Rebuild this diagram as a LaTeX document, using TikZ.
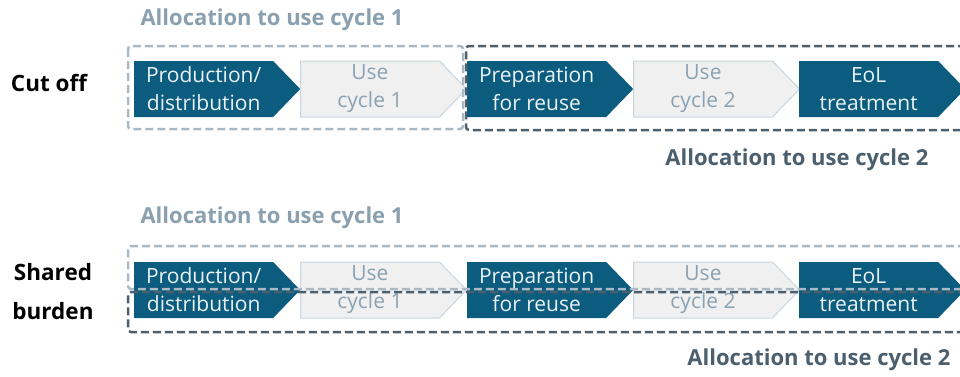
\documentclass[tikz,border=0pt]{standalone}
\usepackage{fontspec}
\setmainfont{Open Sans}
\usetikzlibrary{shapes.symbols}

\definecolor{petrol}{HTML}{0B5C7E}
\definecolor{usefill}{HTML}{F0F0F0}
\definecolor{useline}{HTML}{C9D6DF}
\definecolor{usetext}{HTML}{8AA2B3}
\definecolor{alloclight}{HTML}{A9BAC6}
\definecolor{alloctext}{HTML}{8AA0AF}
\definecolor{allocdark}{HTML}{4B5F6E}

\begin{document}
\begin{tikzpicture}[x=1pt,y=-1pt,
    chev/.style={signal, signal to=east, signal pointer angle=92,
      minimum width=166pt, minimum height=56pt, inner sep=0pt,
      anchor=west, align=center, font=\fontsize{21}{28}\selectfont},
    darkchev/.style={chev, fill=petrol, text=white!92!petrol},
    lightchev/.style={chev, fill=usefill, draw=useline, line width=1pt, text=usetext},
    alloc/.style={font=\bfseries\fontsize{22}{26}\selectfont},
    rowlabel/.style={font=\bfseries\fontsize{22.5}{39}\selectfont, align=center, text=black},
    grp/.style={dash pattern=on 8pt off 4pt, line width=2.5pt, rounded corners=3pt}]
    \clip (0,0) rectangle (960,376);
    \useasboundingbox (0,0) rectangle (960,376);

    % cut off
    \node[rowlabel] (cutoff) at (49,83) {Cut off};
    \node[darkchev] (prodA) at (134,89) {Production/\\distribution};
    \node[lightchev] (useA1) at (300,89) {Use\\cycle 1};
    \node[darkchev] (prepA) at (467,89) {Preparation\\for reuse};
    \node[lightchev] (useA2) at (633,89) {Use\\cycle 2};
    \node[darkchev] (eolA) at (799,89) {EoL\\treatment};

    \draw[grp, allocdark] (990,46) -- (466,46) -- (466,130) -- (990,130);
    \draw[grp, alloclight] (128,46) rectangle (463,129);
    \node[alloc, text=alloctext, anchor=west] (allocA1) at (137,20) {Allocation to use cycle 1};
    \node[alloc, text=allocdark, anchor=east] (allocA2) at (932,160) {Allocation to use cycle 2};

    % shared burden
    \node[rowlabel] (shared) at (53,292) {Shared\\burden};
    \node[darkchev] (prodB) at (134,290) {Production/\\distribution};
    \node[lightchev] (useB1) at (300,290) {Use\\cycle 1};
    \node[darkchev] (prepB) at (467,290) {Preparation\\for reuse};
    \node[lightchev] (useB2) at (633,290) {Use\\cycle 2};
    \node[darkchev] (eolB) at (799,290) {EoL\\treatment};

    \draw[grp, allocdark] (990,292) -- (128,292) -- (128,332) -- (990,332);
    \draw[grp, alloclight] (990,246) -- (128,246) -- (128,289) -- (990,289);
    \node[alloc, text=alloctext, anchor=west] (allocB1) at (137,218) {Allocation to use cycle 1};
    \node[alloc, text=allocdark, anchor=east] (allocB2) at (954,360) {Allocation to use cycle 2};
\end{tikzpicture}
\end{document}
